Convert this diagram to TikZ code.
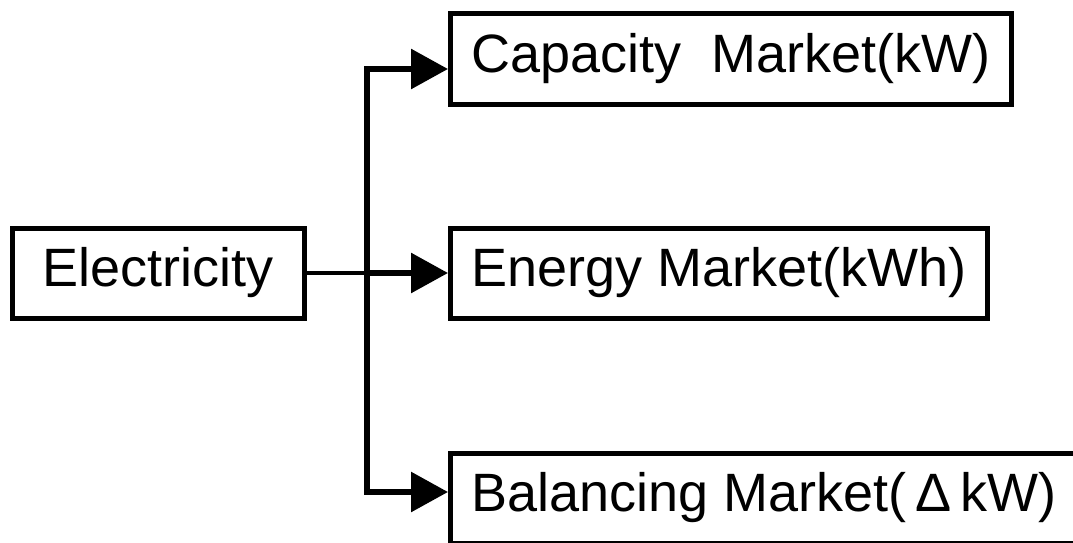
\documentclass[tikz,border=0pt]{standalone}
\usepackage{fontspec}
\setmainfont{Liberation Sans}
\usetikzlibrary{arrows.meta,positioning}

\begin{document}
\begin{tikzpicture}[x=1pt,y=-1pt,>={Triangle[length=37pt,width=39pt]},
    mkbox/.style={draw,line width=5pt,minimum height=90pt,inner xsep=21pt,font=\fontsize{54}{60}\selectfont},
    feed/.style={line width=6pt,->}]
  \clip (0,0) rectangle (1073,543);
  \node[mkbox,minimum width=292pt] (elec) at (158,273) {Electricity};
  \node[mkbox,anchor=west] (cap) at (448,59) {Capacity\ \ Market(kW)};
  \node[mkbox,anchor=west] (energy) at (448,273) {Energy Market(kWh)};
  \node[mkbox,anchor=west] (bal) at (448,498) {Balancing Market(\,Δ\,kW)};
  % fork
  \coordinate (upper) at (367,69);
  \coordinate (lower) at (367,492);
  \draw[feed,<->] (upper -| cap.west) -- (upper) -- (lower) -- (lower -| bal.west);
  \draw[line width=4pt] (elec.east) -- (elec.east -| upper);
  \draw[feed] (elec.east -| upper) -- (energy.west);
\end{tikzpicture}
\end{document}
